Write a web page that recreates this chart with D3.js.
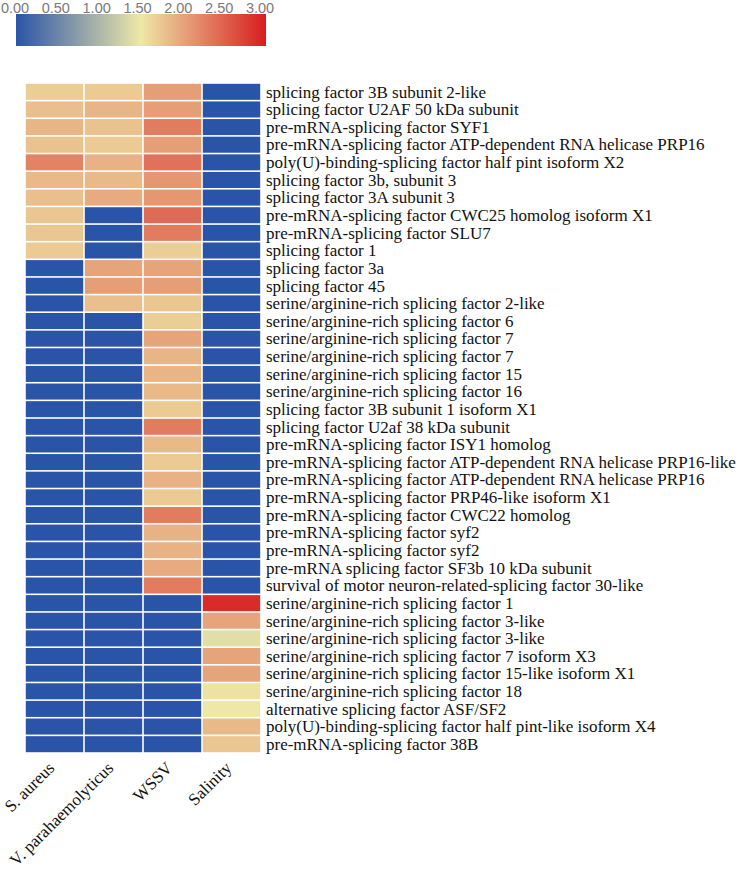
<!DOCTYPE html>
<html>
<head>
<meta charset="utf-8">
<script src="https://cdn.jsdelivr.net/npm/d3@7"></script>
<style>
  body { margin: 0; background: #fff; }
  svg { display: block; }
</style>
</head>
<body>
<div id="chart"></div>
<script>
// gene names, top to bottom
const genes = [
  'splicing factor 3B subunit 2-like',
  'splicing factor U2AF 50 kDa subunit',
  'pre-mRNA-splicing factor SYF1',
  'pre-mRNA-splicing factor ATP-dependent RNA helicase PRP16',
  'poly(U)-binding-splicing factor half pint isoform X2',
  'splicing factor 3b, subunit 3',
  'splicing factor 3A subunit 3',
  'pre-mRNA-splicing factor CWC25 homolog isoform X1',
  'pre-mRNA-splicing factor SLU7',
  'splicing factor 1',
  'splicing factor 3a',
  'splicing factor 45',
  'serine/arginine-rich splicing factor 2-like',
  'serine/arginine-rich splicing factor 6',
  'serine/arginine-rich splicing factor 7',
  'serine/arginine-rich splicing factor 7',
  'serine/arginine-rich splicing factor 15',
  'serine/arginine-rich splicing factor 16',
  'splicing factor 3B subunit 1 isoform X1',
  'splicing factor U2af 38 kDa subunit',
  'pre-mRNA-splicing factor ISY1 homolog',
  'pre-mRNA-splicing factor ATP-dependent RNA helicase PRP16-like',
  'pre-mRNA-splicing factor ATP-dependent RNA helicase PRP16',
  'pre-mRNA-splicing factor PRP46-like isoform X1',
  'pre-mRNA-splicing factor CWC22 homolog',
  'pre-mRNA-splicing factor syf2',
  'pre-mRNA-splicing factor syf2',
  'pre-mRNA splicing factor SF3b 10 kDa subunit',
  'survival of motor neuron-related-splicing factor 30-like',
  'serine/arginine-rich splicing factor 1',
  'serine/arginine-rich splicing factor 3-like',
  'serine/arginine-rich splicing factor 3-like',
  'serine/arginine-rich splicing factor 7 isoform X3',
  'serine/arginine-rich splicing factor 15-like isoform X1',
  'serine/arginine-rich splicing factor 18',
  'alternative splicing factor ASF/SF2',
  'poly(U)-binding-splicing factor half pint-like isoform X4',
  'pre-mRNA-splicing factor 38B'
];

const conditions = ['S. aureus', 'V. parahaemolyticus', 'WSSV', 'Salinity'];

// one array per condition, same order as genes
const saureus = [1.7, 1.8, 1.88, 1.78, 2.25, 1.85, 1.8, 1.75, 1.75, 1.72,
  0, 0, 0, 0, 0, 0, 0, 0, 0, 0, 0, 0, 0, 0, 0, 0, 0, 0, 0, 0, 0, 0, 0, 0, 0, 0, 0, 0];
const vpara = [1.72, 1.88, 1.78, 1.72, 1.9, 1.85, 1.95, 0, 0, 0, 2.0, 2.05, 1.8,
  0, 0, 0, 0, 0, 0, 0, 0, 0, 0, 0, 0, 0, 0, 0, 0, 0, 0, 0, 0, 0, 0, 0, 0, 0];
const wssv = [2.05, 2.05, 2.3, 2.05, 2.38, 2.1, 2.1, 2.42, 2.3, 1.7,
  2.0, 2.05, 1.75, 1.7, 2.0, 1.88, 1.88, 1.85, 1.72, 2.3,
  1.85, 1.72, 1.9, 1.72, 2.3, 1.9, 1.9, 1.95, 2.3,
  0, 0, 0, 0, 0, 0, 0, 0, 0];
const salinity = [0, 0, 0, 0, 0, 0, 0, 0, 0, 0, 0, 0, 0, 0, 0, 0, 0, 0, 0, 0,
  0, 0, 0, 0, 0, 0, 0, 0, 0,
  2.9, 2.0, 1.4, 2.0, 2.0, 1.55, 1.5, 1.85, 1.75];

const legendTicks = [0, 0.5, 1, 1.5, 2, 2.5, 3];

///////////////////////////////////////////////////////////////
const width = 744, height = 880;
const grid = { left: 25, top: 83, right: 261, bottom: 753 };
const serif = '"Liberation Serif", "Times New Roman", serif';

const columns = [saureus, vpara, wssv, salinity];
const cells = [];
genes.forEach((g, i) => {
  conditions.forEach((c, j) => {
    cells.push({ gene: i, cond: c, value: columns[j][i] });
  });
});

const color = d3.scaleLinear()
    .domain([0, 1.5, 3])
    .range(['#2a54a8', '#eee8a8', '#d71d20']);

const x = d3.scaleBand().domain(conditions).range([grid.left, grid.right]);
const y = d3.scaleBand().domain(d3.range(genes.length)).range([grid.top, grid.bottom]);

const svg = d3.select('#chart').append('svg')
    .attr('width', width)
    .attr('height', height);

svg.append('rect').attr('width', width).attr('height', height).attr('fill', '#fff');

// heat cells, white gap between them
const gap = 1.6;
svg.append('g')
  .selectAll('rect')
  .data(cells)
  .join('rect')
    .attr('x', d => x(d.cond) + gap / 2)
    .attr('y', d => y(d.gene) + gap / 2)
    .attr('width', x.bandwidth() - gap)
    .attr('height', y.bandwidth() - gap)
    .attr('fill', d => color(d.value));

// row labels on the right
svg.append('g')
  .selectAll('text')
  .data(genes)
  .join('text')
    .attr('x', grid.right + 5)
    .attr('y', (d, i) => y(i) + y.bandwidth() / 2)
    .attr('dy', '0.34em')
    .attr('font-family', serif)
    .attr('font-size', 17)
    .attr('fill', '#111')
    .text(d => d);

// column labels, rotated
svg.append('g')
  .selectAll('text')
  .data(conditions)
  .join('text')
    .attr('transform', d => `translate(${x(d) + x.bandwidth() / 2 + 1},${grid.bottom + 16}) rotate(-45)`)
    .attr('text-anchor', 'end')
    .attr('font-family', serif)
    .attr('font-size', 17)
    .attr('fill', '#111')
    .text(d => d);

// colour legend
const legend = { x: 16, y: 14, w: 250, h: 32 };
const defs = svg.append('defs');
const grad = defs.append('linearGradient').attr('id', 'legend-grad');
d3.range(0, 3.01, 0.25).forEach(v => {
  grad.append('stop')
    .attr('offset', (v / 3 * 100) + '%')
    .attr('stop-color', color(v));
});

svg.append('rect')
    .attr('x', legend.x)
    .attr('y', legend.y)
    .attr('width', legend.w)
    .attr('height', legend.h)
    .attr('fill', 'url(#legend-grad)');

const lx = d3.scaleLinear().domain([0, 3]).range([15, 260]);
svg.append('g')
  .selectAll('text')
  .data(legendTicks)
  .join('text')
    .attr('x', d => lx(d))
    .attr('y', 13)
    .attr('text-anchor', 'middle')
    .attr('font-family', '"Liberation Sans", Arial, sans-serif')
    .attr('font-size', 14.5)
    .attr('fill', '#7a7a7a')
    .text(d => d.toFixed(2));
</script>
</body>
</html>
